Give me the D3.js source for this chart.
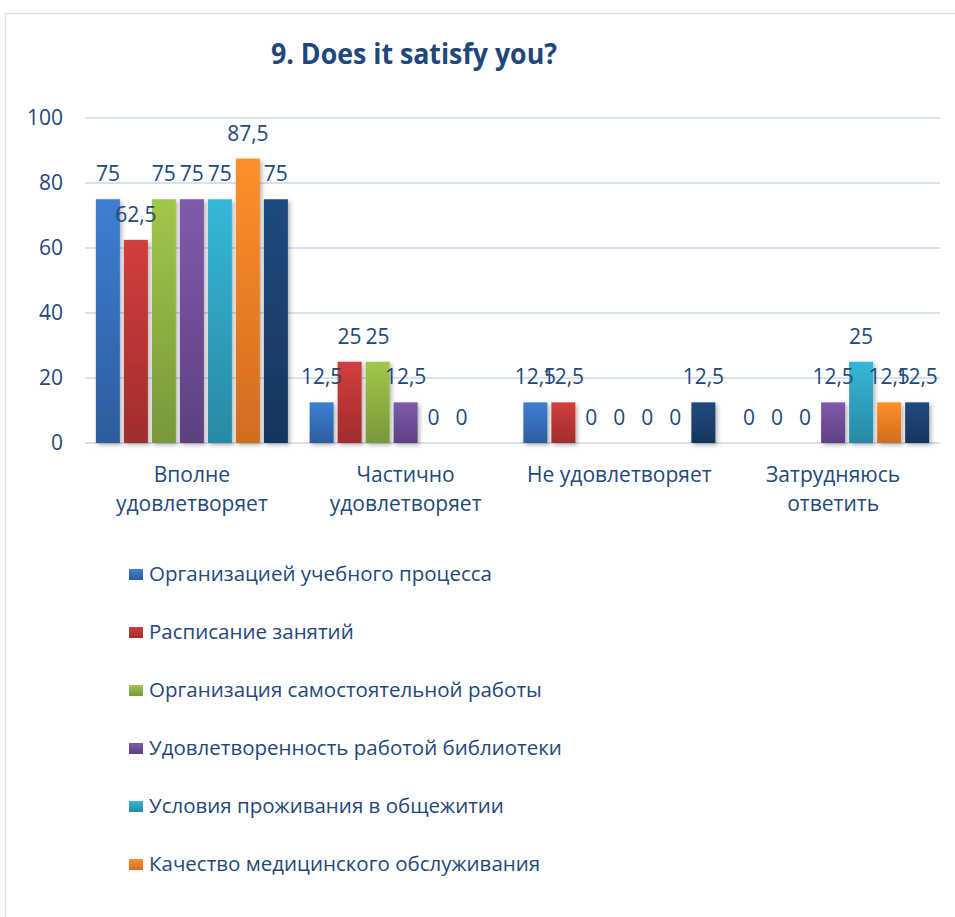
<!DOCTYPE html>
<html>
<head>
<meta charset="utf-8">
<script src="https://cdn.jsdelivr.net/npm/d3@7"></script>
<style>
  html, body { margin: 0; padding: 0; background: #fff; }
  svg { display: block; font-family: "Open Sans", "Noto Sans", sans-serif; }
</style>
</head>
<body>
<svg id="chart" width="955" height="917"></svg>
<script>
// Survey answers, percent of respondents (null = no answer recorded)
const categories = [
  ["Вполне", "удовлетворяет"],
  ["Частично", "удовлетворяет"],
  ["Не удовлетворяет"],
  ["Затрудняюсь", "ответить"]
];
const seriesNames = [
  "Организацией учебного процесса",
  "Расписание занятий",
  "Организация самостоятельной работы",
  "Удовлетворенность работой библиотеки",
  "Условия проживания в общежитии",
  "Качество медицинского обслуживания",
  "Организация питания"
];
const s1 = [75, 12.5, 12.5, 0];
const s2 = [62.5, 25, 12.5, 0];
const s3 = [75, 25, 0, 0];
const s4 = [75, 12.5, 0, 12.5];
const s5 = [75, 0, 0, 25];
const s6 = [87.5, 0, 0, 12.5];
const s7 = [75, null, 12.5, 12.5];
const seriesValues = [s1, s2, s3, s4, s5, s6, s7];
const yTicks = [0, 20, 40, 60, 80, 100];
const title = "9. Does it satisfy you?";

// top / bottom gradient stops for each series
const colorsTop = ["#3c7fd3", "#d23e3c", "#a1c74b", "#7f5bab", "#36b7d9", "#fd902c", "#1f4b7e"];
const colorsBottom = ["#2e5c9c", "#9f2d2c", "#78983a", "#5c4181", "#2889a3", "#d26c1f", "#17355c"];

const textColor = "#24487a";
const svg = d3.select("#chart");

// outer chart frame
svg.append("rect")
  .attr("x", 5.5).attr("y", 13.5)
  .attr("width", 1000).attr("height", 1000)
  .attr("fill", "#fff")
  .attr("stroke", "#d9e3f0").attr("stroke-width", 1.5);

const defs = svg.append("defs");
colorsTop.forEach((c, i) => {
  const g = defs.append("linearGradient")
    .attr("id", "grad" + i)
    .attr("x1", 0).attr("y1", 0).attr("x2", 0).attr("y2", 1);
  g.append("stop").attr("offset", "0%").attr("stop-color", c);
  g.append("stop").attr("offset", "100%").attr("stop-color", colorsBottom[i]);
});
const shadow = defs.append("filter").attr("id", "shadow")
  .attr("x", "-20%").attr("y", "-10%").attr("width", "150%").attr("height", "130%");
shadow.append("feDropShadow")
  .attr("dx", 2).attr("dy", 2).attr("stdDeviation", 2)
  .attr("flood-color", "#000").attr("flood-opacity", 0.3);
// legend area ends where the chart frame's visible part ends
defs.append("clipPath").attr("id", "legendClip")
  .append("rect").attr("x", 0).attr("y", 530).attr("width", 955).attr("height", 380);

// scales
const plotLeft = 85, plotRight = 940, plotTop = 118, plotBottom = 443;
const x0 = d3.scaleBand().domain(d3.range(categories.length)).range([plotLeft, plotRight]);
const groupWidth = 192;
const x1 = d3.scaleBand().domain(d3.range(seriesNames.length))
  .range([0, groupWidth]).paddingInner(4 / 28);
const groupOffset = (x0.bandwidth() - groupWidth) / 2;
const y = d3.scaleLinear().domain([0, 100]).range([plotBottom, plotTop]);

// title
svg.append("text")
  .attr("x", 414).attr("y", 64)
  .attr("text-anchor", "middle")
  .attr("font-size", 28).attr("font-weight", 700)
  .attr("fill", "#21467a")
  .attr("textLength", 286).attr("lengthAdjust", "spacingAndGlyphs")
  .text(title);

// gridlines
svg.append("g").selectAll("line").data(yTicks).join("line")
  .attr("x1", plotLeft).attr("x2", plotRight)
  .attr("y1", d => y(d)).attr("y2", d => y(d))
  .attr("stroke", "#d7e2f0").attr("stroke-width", 2);

// y axis labels
const yAxis = d3.axisLeft(y).tickValues(yTicks).tickSize(0).tickPadding(0);
const yg = svg.append("g").attr("transform", "translate(63,0)").call(yAxis);
yg.select(".domain").remove();
yg.selectAll("text")
  .attr("font-size", 21).attr("fill", textColor)
  .attr("font-family", "'Open Sans', sans-serif");

// bars
const fmt = v => String(v).replace(".", ",");
const groups = svg.append("g").selectAll("g").data(categories).join("g")
  .attr("transform", (d, i) => `translate(${x0(i) + groupOffset},0)`);

groups.each(function(cat, ci) {
  const g = d3.select(this);
  const vals = seriesValues.map((s, si) => ({ si, v: s[ci] })).filter(d => d.v !== null);
  g.selectAll("rect").data(vals.filter(d => d.v > 0)).join("rect")
    .attr("x", d => x1(d.si))
    .attr("y", d => y(d.v))
    .attr("width", x1.bandwidth())
    .attr("height", d => y(0) - y(d.v))
    .attr("fill", d => `url(#grad${d.si})`)
    .attr("filter", "url(#shadow)");
  g.selectAll("text").data(vals).join("text")
    .attr("x", d => x1(d.si) + x1.bandwidth() / 2)
    .attr("y", d => y(d.v) - 18)
    .attr("text-anchor", "middle")
    .attr("font-size", 21).attr("fill", textColor)
    .text(d => fmt(d.v));
});

// category labels
svg.append("g").selectAll("text").data(categories).join("text")
  .attr("x", (d, i) => x0(i) + x0.bandwidth() / 2)
  .attr("y", 482)
  .attr("text-anchor", "middle")
  .attr("font-size", 21).attr("fill", textColor)
  .each(function(lines) {
    d3.select(this).selectAll("tspan").data(lines).join("tspan")
      .attr("x", d3.select(this).attr("x"))
      .attr("dy", (d, i) => i === 0 ? 0 : 29)
      .text(d => d);
  });

// legend
const legend = svg.append("g").attr("clip-path", "url(#legendClip)")
  .selectAll("g").data(seriesNames).join("g")
  .attr("transform", (d, i) => `translate(129,${581 + i * 58})`);
legend.append("rect")
  .attr("x", 0).attr("y", -12)
  .attr("width", 14).attr("height", 11)
  .attr("fill", (d, i) => `url(#grad${i})`);
legend.append("text")
  .attr("x", 20).attr("y", 0)
  .attr("font-size", 20.5).attr("fill", textColor)
  .text(d => d);
</script>
</body>
</html>
